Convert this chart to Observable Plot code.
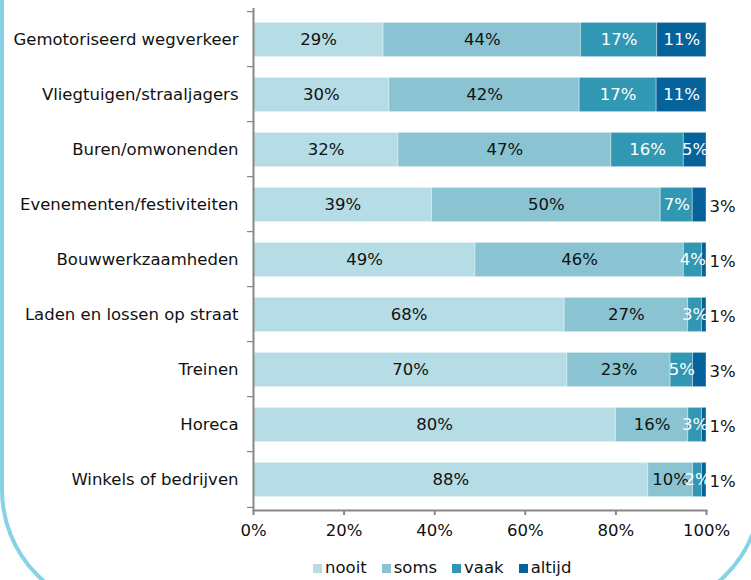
<!DOCTYPE html>
<html>
<head>
<meta charset="utf-8">
<script src="https://cdn.jsdelivr.net/npm/d3@7"></script>
<script src="https://cdn.jsdelivr.net/npm/@observablehq/plot@0.6"></script>
<style>
  html, body { margin: 0; padding: 0; background: #fff; }
  body { width: 751px; height: 580px; overflow: hidden; position: relative; font-family: "DejaVu Sans", Verdana, sans-serif; }
  #frame { position: absolute; left: 0; top: -200px; width: 763px; height: 812px; box-sizing: border-box;
           border: 4px solid #88d2e6; border-radius: 122px; pointer-events: none; }
  #chart { position: absolute; left: 0; top: 0; }
  #legend { position: absolute; left: 313px; top: 558px; display: flex; align-items: flex-end; font-size: 16.5px; color: #111; line-height: 20px; }
  #legend .item { display: flex; align-items: baseline; margin-right: 15px; }
  #legend .sw { display: inline-block; width: 9px; height: 9px; margin-right: 3px; }
</style>
</head>
<body>
<div id="frame"></div>
<div id="chart"></div>
<div id="legend"></div>
<script>
const categories = [
  "Gemotoriseerd wegverkeer",
  "Vliegtuigen/straaljagers",
  "Buren/omwonenden",
  "Evenementen/festiviteiten",
  "Bouwwerkzaamheden",
  "Laden en lossen op straat",
  "Treinen",
  "Horeca",
  "Winkels of bedrijven"
];
const nooit  = [29, 30, 32, 39, 49, 68, 70, 80, 88];
const soms   = [44, 42, 47, 50, 46, 27, 23, 16, 10];
const vaak   = [17, 17, 16,  7,  4,  3,  5,  3,  2];
const altijd = [11, 11,  5,  3,  1,  1,  3,  1,  1];
const responses = ["nooit", "soms", "vaak", "altijd"];
const colors = ["#b6dce5", "#8ac4d3", "#3297b2", "#05629a"];
const xTicks = [0, 0.2, 0.4, 0.6, 0.8, 1];

const series = {nooit, soms, vaak, altijd};
const data = [];
categories.forEach((cat, i) => {
  responses.forEach(resp => data.push({cat, resp, value: series[resp][i]}));
});

const W = 751, H = 548, mt = 8, mb = 38, ml = 253, mr = 45;
const step = (H - mt - mb) / categories.length;
const inset = (step - 35) / 2;
const tickX = -6 / (W - ml - mr);
const gray = "#888888";
const ink = "#111111";
const outside = d => d.resp === "altijd" && d.value < 5;
const stackOpts = {x: "value", y: "cat", z: "resp", order: responses, offset: "normalize"};
const lastCat = [categories[categories.length - 1]];

const chart = Plot.plot({
  width: W, height: H,
  marginTop: mt, marginBottom: mb, marginLeft: ml, marginRight: mr,
  style: {fontFamily: "DejaVu Sans, Verdana, sans-serif", fontSize: "16.5px", color: ink, background: "transparent"},
  x: {domain: [0, 1], label: null},
  y: {domain: categories, padding: 0, label: null},
  color: {domain: responses, range: colors},
  marks: [
    Plot.barX(data, Plot.stackX({...stackOpts, fill: "resp", insetTop: inset, insetBottom: inset,
      stroke: "white", strokeOpacity: 0.35, strokeWidth: 1})),
    Plot.text(data, Plot.stackX({...stackOpts,
      text: d => (d.resp === "nooit" || d.resp === "soms") ? d.value + "%" : "",
      fill: ink, fontSize: 16.5})),
    Plot.text(data, Plot.stackX({...stackOpts,
      text: d => ((d.resp === "vaak" || d.resp === "altijd") && !outside(d)) ? d.value + "%" : "",
      fill: "white", fontSize: 16.5})),
    Plot.text(data, Plot.stackX2({...stackOpts,
      text: d => outside(d) ? d.value + "%" : "",
      textAnchor: "start", dx: 3, dy: 2, fill: ink, fontSize: 16.5})),
    // category boundary ticks on the y axis
    Plot.barX(categories, {y: d => d, x1: tickX, x2: 0, insetBottom: step - 2, dy: -1, fill: gray}),
    Plot.barX(lastCat, {y: d => d, x1: tickX, x2: 0, insetTop: step - 2, dy: 1, fill: gray}),
    Plot.ruleX([0], {stroke: gray, strokeWidth: 2}),
    Plot.frame({anchor: "bottom", stroke: gray, strokeWidth: 2}),
    Plot.axisX({ticks: xTicks, tickFormat: d3.format(".0%"), tickSize: 5, tickPadding: 9,
      stroke: gray, strokeWidth: 2, fill: ink, label: null}),
    Plot.axisY({tickSize: 0, tickPadding: 15, fill: ink, label: null})
  ]
});
document.getElementById("chart").appendChild(chart);

const legend = document.getElementById("legend");
responses.forEach((r, i) => {
  const item = document.createElement("span");
  item.className = "item";
  const sw = document.createElement("span");
  sw.className = "sw";
  sw.style.background = colors[i];
  item.appendChild(sw);
  item.appendChild(document.createTextNode(r));
  legend.appendChild(item);
});
</script>
</body>
</html>
